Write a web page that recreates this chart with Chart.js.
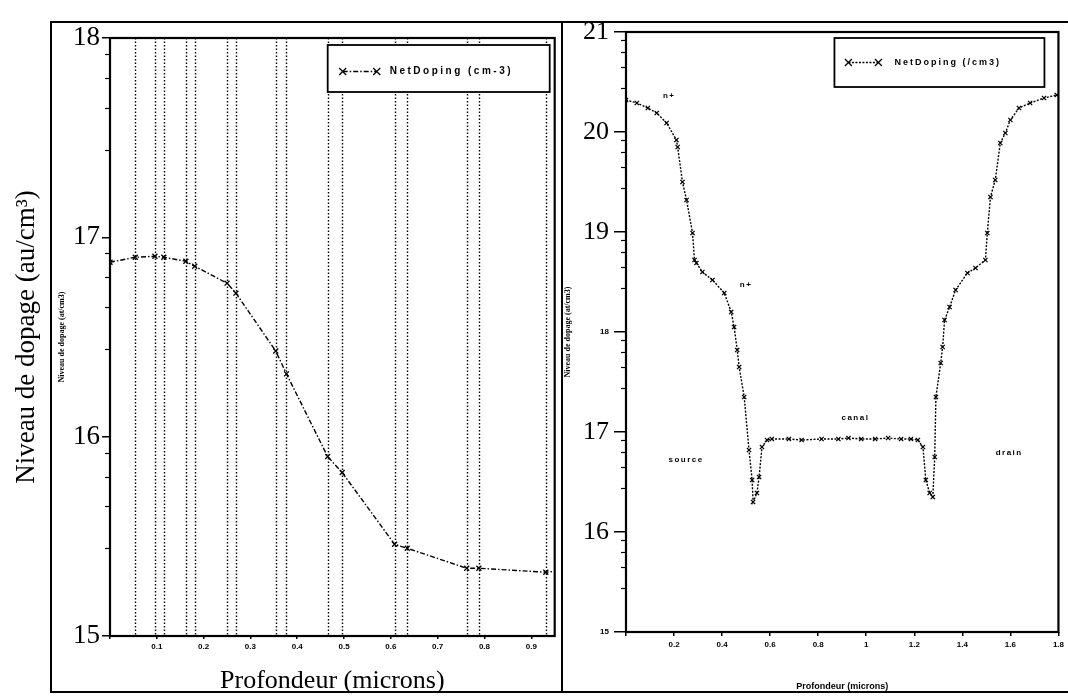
<!DOCTYPE html>
<html>
<head>
<meta charset="utf-8">
<script src="https://cdn.jsdelivr.net/npm/chart.js@4.4.1/dist/chart.umd.min.js"></script>
<style>
  html, body { margin: 0; padding: 0; background: #fff; overflow: hidden; }
  body { width: 1068px; height: 697px; position: relative; }
  canvas { position: absolute; top: 0; }
  #cadre { position: absolute; left: 50px; top: 21px; width: 1030px; height: 668px; border: 2px solid #000; }
  #separateur { position: absolute; left: 561px; top: 21px; width: 2px; height: 670px; background: #000; }
</style>
</head>
<body>
<div id="cadre"></div>
<div id="separateur"></div>
<canvas id="grafico-profil" width="560" height="697" style="left:0"></canvas>
<canvas id="grafico-coupe" width="508" height="697" style="left:560px"></canvas>
<script>
// profil vertical (gauche) - log10 du dopage
const profondeur1 = [0, 0.054, 0.096, 0.115, 0.162, 0.181, 0.25, 0.269, 0.354, 0.377, 0.465, 0.496, 0.608, 0.635, 0.762, 0.788, 0.931, 0.955];
const dopage1 = [16.875, 16.9, 16.905, 16.9, 16.88, 16.855, 16.77, 16.72, 16.43, 16.315, 15.9, 15.82, 15.46, 15.44, 15.34, 15.34, 15.32, 15.325];

// coupe horizontale source-canal-drain (droite)
const profondeur2 = [0, 0.045, 0.091, 0.128, 0.169, 0.21, 0.215, 0.235, 0.252, 0.277, 0.285, 0.293, 0.318, 0.36, 0.409, 0.438, 0.45, 0.463,
  0.471, 0.492, 0.512, 0.525, 0.529, 0.545, 0.554, 0.566, 0.587, 0.607, 0.678, 0.731, 0.814, 0.884, 0.926, 0.979, 1.037, 1.091, 1.145,
  1.186, 1.215, 1.236, 1.248, 1.264, 1.277, 1.285, 1.29, 1.31, 1.318, 1.326, 1.347, 1.372, 1.421, 1.455, 1.496, 1.504, 1.517, 1.537,
  1.558, 1.579, 1.6, 1.636, 1.682, 1.74, 1.793];
const dopage2 = [20.32, 20.29, 20.24, 20.19, 20.09, 19.92, 19.85, 19.5, 19.32, 18.99, 18.72, 18.69, 18.6, 18.52, 18.39, 18.2, 18.05, 17.82,
  17.65, 17.35, 16.82, 16.52, 16.3, 16.39, 16.55, 16.85, 16.92, 16.93, 16.93, 16.92, 16.93, 16.93, 16.94, 16.93, 16.93, 16.94, 16.93,
  16.93, 16.92, 16.85, 16.52, 16.39, 16.35, 16.75, 17.35, 17.69, 17.85, 18.12, 18.25, 18.42, 18.59, 18.64, 18.72, 18.99, 19.35, 19.52,
  19.89, 19.99, 20.12, 20.24, 20.29, 20.34, 20.37];

// graduations mineures (fraction de decade)
const fractionsMineures = [0.44, 0.65, 0.8, 0.92];
// labels des regions (coupe)
const regions = ['n+', 'n+', 'canal', 'source', 'drain'];
const regionsX = [0.18, 0.5, 0.955, 0.25, 1.595];
const regionsY = [20.36, 18.47, 17.14, 16.72, 16.79];

const serif = 'Liberation Serif';
const sans = 'Liberation Sans';

function croix(ctx, x, y, r) {
  ctx.beginPath();
  ctx.moveTo(x - r, y - r); ctx.lineTo(x + r, y + r);
  ctx.moveTo(x + r, y - r); ctx.lineTo(x - r, y + r);
  ctx.stroke();
}

// decor: lignes verticales, cadre, graduations mineures, legende encadree, textes
const decor = {
  id: 'decor',
  beforeDatasetsDraw(chart, args, opts) {
    const {ctx, chartArea: a, scales: {x}} = chart;
    if (!opts.gridX) return;
    ctx.save();
    ctx.strokeStyle = '#000';
    ctx.lineWidth = 1.4;
    ctx.setLineDash([1.5, 2]);
    opts.gridX.forEach(v => {
      const px = Math.round(x.getPixelForValue(v)) + 0.5;
      ctx.beginPath(); ctx.moveTo(px, a.top); ctx.lineTo(px, a.bottom); ctx.stroke();
    });
    ctx.restore();
  },
  afterDatasetsDraw(chart, args, opts) {
    const {ctx, chartArea: a, scales: {x, y}} = chart;
    ctx.save();
    ctx.strokeStyle = '#000';
    ctx.fillStyle = '#000';
    ctx.setLineDash([]);
    ctx.lineWidth = 2.2;
    ctx.strokeRect(a.left, a.top, a.right - a.left, a.bottom - a.top);

    ctx.lineWidth = 1.2;
    for (let n = y.min; n < y.max; n++) {
      fractionsMineures.forEach(f => {
        const py = Math.round(y.getPixelForValue(n + f)) + 0.5;
        ctx.beginPath(); ctx.moveTo(a.left - 5, py); ctx.lineTo(a.left, py); ctx.stroke();
      });
    }

    if (opts.notes) {
      ctx.font = 'bold 8px "' + sans + '"';
      ctx.letterSpacing = '1.5px';
      ctx.textAlign = 'center';
      ctx.textBaseline = 'middle';
      opts.notes.forEach((t, i) => ctx.fillText(t, x.getPixelForValue(regionsX[i]), y.getPixelForValue(regionsY[i])));
    }

    // legende
    const L = opts.legende;
    const ds = chart.data.datasets[0];
    const bx = a.right - L.right - L.width, by = a.top + L.top;
    ctx.fillStyle = '#fff';
    ctx.fillRect(bx, by, L.width, L.height);
    ctx.lineWidth = 1.8;
    ctx.strokeRect(bx, by, L.width, L.height);
    const ly = by + L.height / 2 + L.dy;
    ctx.lineWidth = 1.3;
    ctx.setLineDash(ds.borderDash);
    ctx.beginPath(); ctx.moveTo(bx + L.x0, ly); ctx.lineTo(bx + L.x1, ly); ctx.stroke();
    ctx.setLineDash([]);
    croix(ctx, bx + L.x0, ly, 3.5);
    croix(ctx, bx + L.x1, ly, 3.5);
    ctx.fillStyle = '#000';
    ctx.font = L.font;
    ctx.letterSpacing = L.spacing;
    ctx.textAlign = 'left';
    ctx.textBaseline = 'middle';
    ctx.fillText(ds.label, bx + L.textX, ly);

    if (opts.titreInterne) {
      const T = opts.titreInterne;
      ctx.letterSpacing = '0px';
      ctx.font = 'bold 8px "' + serif + '"';
      ctx.textAlign = 'center';
      ctx.translate(T.x, (a.top + a.bottom) / 2 + T.dy);
      ctx.rotate(-Math.PI / 2);
      ctx.fillText(T.text, 0, 0);
    }
    ctx.restore();
  }
};

function serie(xs, ys) {
  return xs.map((v, i) => ({x: v, y: ys[i]}));
}

const petit = {family: sans, size: 8, weight: 'bold'};

// grafico-profil
const ctx1 = document.getElementById('grafico-profil');
const data1 = {
  datasets: [{
    label: 'NetDoping (cm-3)',
    data: serie(profondeur1, dopage1),
    borderColor: '#000',
    borderWidth: 1.4,
    borderDash: [5, 2, 1.5, 2],
    pointStyle: 'crossRot',
    pointRadius: 3.5,
    pointBorderColor: '#000',
    pointBorderWidth: 1.3,
    fill: false
  }]
};
const options1 = {
  responsive: false,
  animation: false,
  devicePixelRatio: 1,
  layout: {padding: {top: 38, right: 5, left: 0, bottom: 0}},
  plugins: {
    legend: {display: false},
    tooltip: {enabled: false},
    decor: {
      gridX: profondeur1.slice(1, -1),
      legende: {width: 222, height: 47, right: 5, top: 7, dy: 3, x0: 15, x1: 49, textX: 62,
        font: 'bold 10px "' + sans + '"', spacing: '2.5px'},
      titreInterne: {text: 'Niveau de dopage (at/cm3)', x: 62, dy: 0}
    }
  },
  scales: {
    x: {
      type: 'linear',
      min: 0,
      max: 0.95,
      afterFit: s => { s.height = 61; },
      border: {display: false},
      grid: {drawOnChartArea: false, tickLength: 3, color: '#000', lineWidth: 1.5},
      ticks: {
        stepSize: 0.1, includeBounds: false, maxRotation: 0, autoSkip: false, padding: 3,
        color: '#000', font: petit,
        callback: v => v === 0 ? '' : v.toFixed(1)
      },
      title: {display: true, text: 'Profondeur (microns)', color: '#000',
        font: {family: serif, size: 26, lineHeight: 1.2}, padding: {top: 0, bottom: 0}}
    },
    y: {
      min: 15,
      max: 18,
      afterFit: s => { s.width = 110; },
      border: {display: false},
      grid: {drawOnChartArea: false, tickLength: 8, color: '#000', lineWidth: 1.5},
      ticks: {stepSize: 1, padding: 2, color: '#000', font: {family: serif, size: 27}},
      title: {display: true, text: 'Niveau de dopage (au/cm³)', color: '#000',
        font: {family: serif, size: 27, lineHeight: 1.2}, padding: {top: 11, bottom: 0}}
    }
  }
};
new Chart(ctx1, {type: 'line', data: data1, options: options1, plugins: [decor]});
//FIM grafico-profil

// grafico-coupe
const ctx2 = document.getElementById('grafico-coupe');
const data2 = {
  datasets: [{
    label: 'NetDoping (/cm3)',
    data: serie(profondeur2, dopage2),
    borderColor: '#000',
    borderWidth: 1.4,
    borderDash: [2, 1.5],
    pointStyle: 'crossRot',
    pointRadius: 3,
    pointBorderColor: '#000',
    pointBorderWidth: 1.3,
    fill: false
  }]
};
const options2 = {
  responsive: false,
  animation: false,
  devicePixelRatio: 1,
  layout: {padding: {top: 32, right: 6, left: 0, bottom: 0}},
  plugins: {
    legend: {display: false},
    tooltip: {enabled: false},
    decor: {
      notes: regions,
      legende: {width: 210, height: 49, right: 14, top: 6, dy: 0, x0: 14, x1: 44, textX: 60,
        font: 'bold 9px "' + sans + '"', spacing: '2px'}
    }
  },
  scales: {
    x: {
      type: 'linear',
      min: 0,
      max: 1.8,
      afterFit: s => { s.height = 65; },
      border: {display: false},
      grid: {drawOnChartArea: false, tickLength: 4, color: '#000', lineWidth: 1.5},
      ticks: {
        stepSize: 0.2, includeBounds: false, maxRotation: 0, autoSkip: false, padding: 4,
        color: '#000', font: petit,
        callback: v => v === 0 ? '' : String(+v.toFixed(1))
      },
      title: {display: true, text: 'Profondeur (microns)', color: '#000',
        font: {family: sans, size: 9, weight: 'bold', lineHeight: 1.2}, padding: {top: 0, bottom: 5}}
    },
    y: {
      min: 15,
      max: 21,
      afterFit: s => { s.width = 66; },
      border: {display: false},
      grid: {drawOnChartArea: false, tickLength: 12, color: '#000', lineWidth: 1.5},
      ticks: {
        stepSize: 1, padding: 5, color: '#000',
        font: c => (c.tick && (c.tick.value === 15 || c.tick.value === 18)) ? petit : {family: serif, size: 26}
      },
      title: {display: true, text: 'Niveau de dopage (at/cm3)', color: '#000',
        font: {family: serif, size: 8, weight: 'bold', lineHeight: 1.2}, padding: {top: 3, bottom: 0}}
    }
  }
};
new Chart(ctx2, {type: 'line', data: data2, options: options2, plugins: [decor]});
//FIM grafico-coupe
</script>
</body>
</html>
